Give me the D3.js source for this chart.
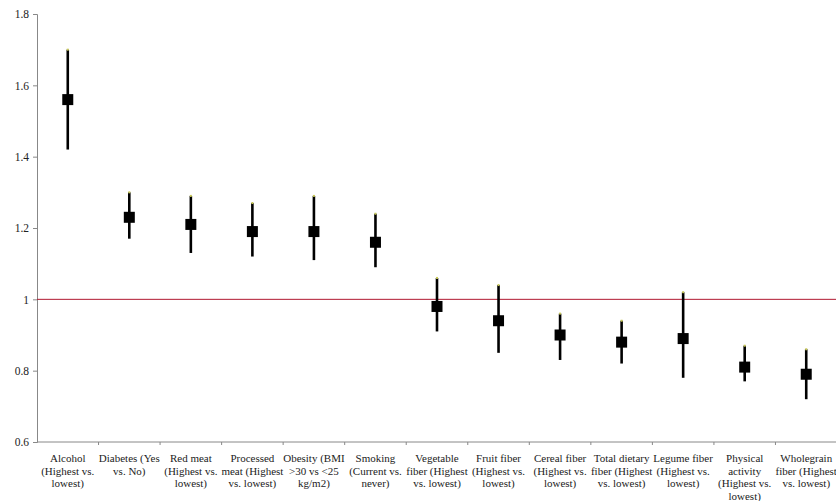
<!DOCTYPE html>
<html>
<head>
<meta charset="utf-8">
<script src="https://cdn.jsdelivr.net/npm/d3@7"></script>
<style>
  body { margin: 0; background: #fff; }
  svg text { font-family: "Liberation Serif", "DejaVu Serif", serif; }
</style>
</head>
<body>
<div id="vis-container"></div>
<script>
let width = 836;
let height = 501;
let font = "Liberation Serif, DejaVu Serif, serif";

// category labels, already split into lines as in the picture
let categories = [
  ["Alcohol", "(Highest vs.", "lowest)"],
  ["Diabetes (Yes", "vs. No)"],
  ["Red meat", "(Highest vs.", "lowest)"],
  ["Processed", "meat (Highest", "vs. lowest)"],
  ["Obesity (BMI", ">30 vs <25", "kg/m2)"],
  ["Smoking", "(Current vs.", "never)"],
  ["Vegetable", "fiber (Highest", "vs. lowest)"],
  ["Fruit fiber", "(Highest vs.", "lowest)"],
  ["Cereal fiber", "(Highest vs.", "lowest)"],
  ["Total dietary", "fiber (Highest", "vs. lowest)"],
  ["Legume fiber", "(Highest vs.", "lowest)"],
  ["Physical", "activity", "(Highest vs.", "lowest)"],
  ["Wholegrain", "fiber (Highest", "vs. lowest)"]
];
let estimate = [1.56, 1.23, 1.21, 1.19, 1.19, 1.16, 0.98, 0.94, 0.90, 0.88, 0.89, 0.81, 0.79];
let lower    = [1.42, 1.17, 1.13, 1.12, 1.11, 1.09, 0.91, 0.85, 0.83, 0.82, 0.78, 0.77, 0.72];
let upper    = [1.70, 1.30, 1.29, 1.27, 1.29, 1.24, 1.06, 1.04, 0.96, 0.94, 1.02, 0.87, 0.86];
let y_ticks  = [0.6, 0.8, 1, 1.2, 1.4, 1.6, 1.8];
let ref_value = 1;

let margin = {left: 37, right: -1, top: 14, bottom: 59};

let svg = d3.select("#vis-container").append("svg")
    .attr("width", width)
    .attr("height", height)
    .style("display", "block");

let idx = d3.range(categories.length);

let x = d3.scaleBand()
    .domain(idx)
    .range([margin.left, width - margin.right]);

let y = d3.scaleLinear()
    .domain([0.6, 1.8])
    .range([height - margin.bottom, margin.top]);

// y axis
let yAxis = svg.append("g")
    .attr("transform", "translate(" + margin.left + ",0)")
    .call(d3.axisLeft(y).tickValues(y_ticks).tickSize(4).tickPadding(4)
      .tickFormat(d3.format("")))
    .attr("font-family", font);
yAxis.select(".domain").attr("stroke", "#888");
yAxis.selectAll(".tick line").attr("stroke", "#888");
yAxis.selectAll("text").attr("font-size", 11.5).attr("fill", "#222")
    .attr("font-family", font);

// x axis line with ticks at category boundaries
let xAxis = svg.append("g").attr("class", "x-axis");
xAxis.append("line")
    .attr("x1", margin.left).attr("x2", width)
    .attr("y1", y(0.6)).attr("y2", y(0.6))
    .attr("stroke", "#888");
xAxis.selectAll("line.tk")
    .data(idx.slice(1))
    .enter().append("line")
    .attr("class", "tk")
    .attr("x1", d => x(d)).attr("x2", d => x(d))
    .attr("y1", y(0.6)).attr("y2", y(0.6) + 3)
    .attr("stroke", "#888");

// category labels
let labels = xAxis.selectAll("text.cat")
    .data(idx)
    .enter().append("text")
    .attr("class", "cat")
    .attr("text-anchor", "middle")
    .attr("font-family", font)
    .attr("font-size", 11)
    .attr("fill", "#222");
labels.selectAll("tspan")
    .data(d => categories[d].map(t => ({t: t, i: d})))
    .enter().append("tspan")
    .attr("x", d => x(d.i) + x.bandwidth() / 2)
    .attr("y", (d, j) => y(0.6) + 20 + j * 12.5)
    .text(d => d.t);

// reference line at 1
svg.append("line")
    .attr("x1", margin.left).attr("x2", width)
    .attr("y1", y(ref_value)).attr("y2", y(ref_value))
    .attr("stroke", "#b0182f")
    .attr("stroke-width", 1);

// error bars
let cx = i => x(i) + x.bandwidth() / 2;
svg.append("g").selectAll("line")
    .data(idx)
    .enter().append("line")
    .attr("x1", cx).attr("x2", cx)
    .attr("y1", d => y(lower[d]))
    .attr("y2", d => y(upper[d]))
    .attr("stroke", "#000")
    .attr("stroke-width", 2.6);

// small tip marks at the top of each bar
svg.append("g").selectAll("rect")
    .data(idx)
    .enter().append("rect")
    .attr("x", d => cx(d) - 1)
    .attr("y", d => y(upper[d]) - 1)
    .attr("width", 2).attr("height", 2)
    .attr("fill", "#c8c85a");

// estimate markers
let ms = 11;
svg.append("g").selectAll("rect")
    .data(idx)
    .enter().append("rect")
    .attr("x", d => cx(d) - ms / 2)
    .attr("y", d => y(estimate[d]) - ms / 2)
    .attr("width", ms).attr("height", ms)
    .attr("fill", "#000");
</script>
</body>
</html>
